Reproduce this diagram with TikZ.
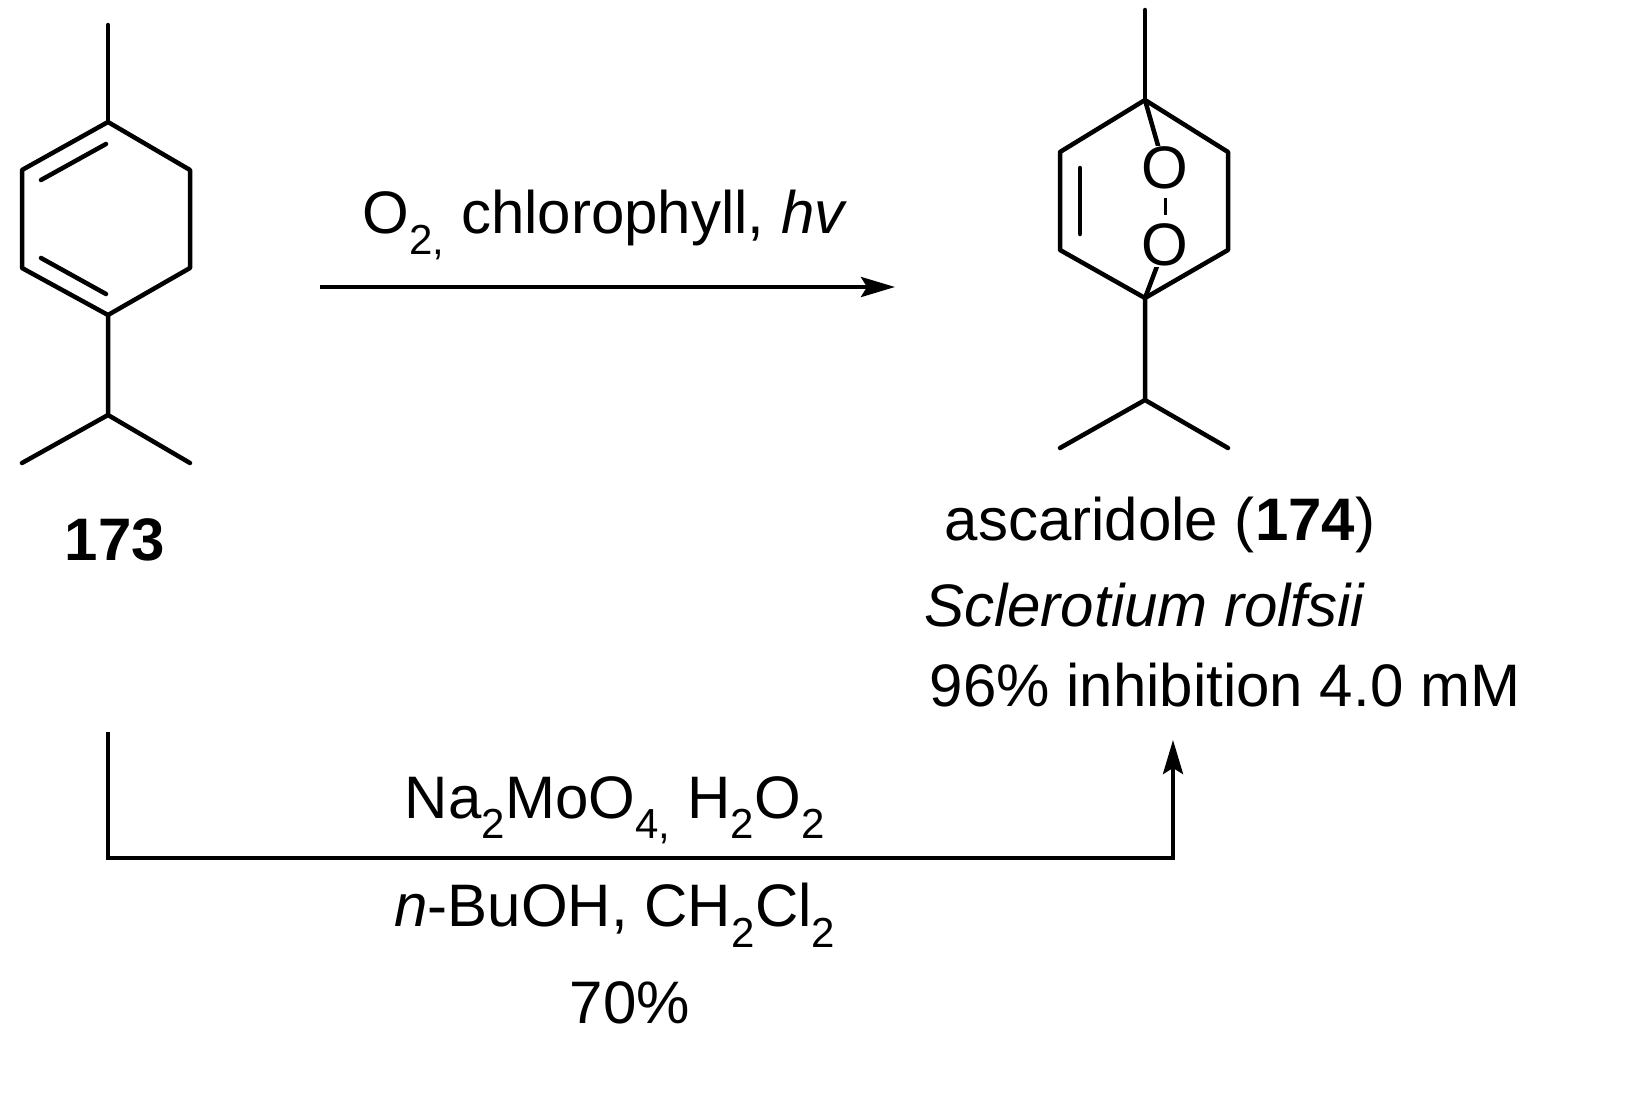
\documentclass[tikz,border=0pt]{standalone}
\usepackage{fontspec}
\setmainfont{Liberation Sans}
\usetikzlibrary{arrows.meta,calc}
\begin{document}
\begin{tikzpicture}[x=1pt,y=-1pt,
  bond/.style={line width=4.5pt,line cap=round,line join=round},
  arr/.style={line width=4pt,-{Stealth[length=34pt,width=20pt,inset=6pt]}},
  txt/.style={font=\fontsize{60}{66}\selectfont,inner sep=0pt},
  atom/.style={font=\fontsize{60}{66}\selectfont,inner sep=1pt,fill=white}]
\useasboundingbox (0,0) rectangle (1645,1095);
% 173
\coordinate (m1) at (108,25);
\coordinate (a1) at (108,122);
\coordinate (a2) at (190,170);
\coordinate (a3) at (190,268);
\coordinate (a4) at (108,315);
\coordinate (a5) at (22,268);
\coordinate (a6) at (22,170);
\coordinate (i1) at (108,415);
\coordinate (i2) at (22,463);
\coordinate (i3) at (190,463);
\draw[bond] (a1)--(a2)--(a3)--(a4)--(a5)--(a6)--cycle;
\draw[bond] (m1)--(a1);
\draw[bond] (a4)--(i1)--(i2) (i1)--(i3);
\draw[bond] (106,144) -- (41,180);
\draw[bond] (41,258) -- (106,294);
\node[txt,font=\fontsize{60}{66}\selectfont\bfseries] (l173) at (115,540) {173};
% arrow 1
\coordinate (s1) at (320,287);
\coordinate (e1) at (895,287);
\draw[arr] (s1)--(e1);
\node[txt] (c1) at (605,225) {O\textsubscript{2,} chlorophyll, \textit{hv}};
% ascaridole
\coordinate (m2) at (1145,10);
\coordinate (b1) at (1145,100);
\coordinate (b2) at (1060,152);
\coordinate (b3) at (1060,250);
\coordinate (b4) at (1145,298);
\coordinate (b5) at (1228,250);
\coordinate (b6) at (1228,152);
\coordinate (j1) at (1145,400);
\coordinate (j2) at (1060,448);
\coordinate (j3) at (1228,448);
\draw[bond] (b1)--(b2)--(b3)--(b4)--(b5)--(b6)--cycle;
\draw[bond] (m2)--(b1);
\draw[bond] (b4)--(j1)--(j2) (j1)--(j3);
\draw[bond] (1080,168)--(1080,234);
\draw[bond] (b1)--(1165,170) (1165,245)--(b4);
\draw[line width=3pt] (1165,198)--(1165,215);
\node[atom] (o1) at (1165,168) {O};
\node[atom] (o2) at (1165,245) {O};
\node[txt] (n174) at (1160,525) {ascaridole (\textbf{174})};
\node[txt] (sp) at (1145,605) {\textit{Sclerotium rolfsii}};
\node[txt] (inh) at (1225,685) {96\% inhibition 4.0 mM};
% arrow 2
\coordinate (p1) at (108,732);
\coordinate (p2) at (108,858);
\coordinate (p3) at (1173,858);
\coordinate (p4) at (1173,740);
\draw[arr] (p1)--(p2)--(p3)--(p4);
\node[txt] (c2) at (615,810) {Na\textsubscript{2}MoO\textsubscript{4,} H\textsubscript{2}O\textsubscript{2}};
\node[txt] (c3) at (615,915) {\textit{n}-BuOH, CH\textsubscript{2}Cl\textsubscript{2}};
\node[txt] (c4) at (630,1003) {70\%};
\end{tikzpicture}
\end{document}
